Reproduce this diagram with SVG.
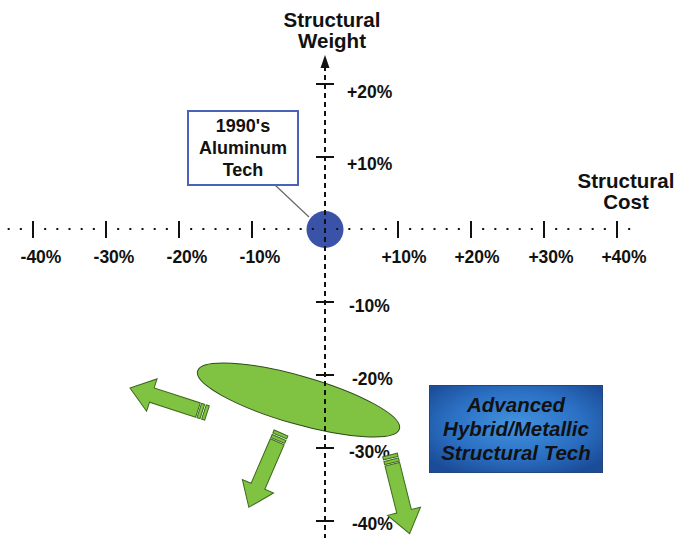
<svg xmlns="http://www.w3.org/2000/svg" width="678" height="538" viewBox="0 0 678 538">
  <style>
    .t { font-family: "Liberation Sans", Arial, sans-serif; font-weight: bold; fill: #111; }
    .title { font-size: 20.5px; text-anchor: middle; }
    .lbl { font-size: 17.5px; }
    .hl { text-anchor: middle; }
    .tick { stroke: #111; stroke-width: 2; }
    .grn { fill: #80c342; stroke: #3c6a1c; stroke-width: 1; }
  </style>
  <defs>
    <radialGradient id="blueGrad" cx="50%" cy="45%" r="65%">
      <stop offset="0" stop-color="#4393e0"/>
      <stop offset="0.6" stop-color="#2b6fc2"/>
      <stop offset="1" stop-color="#1a4c98"/>
    </radialGradient>
    <g id="blockArrow">
      <polygon class="grn" points="9.5,-7.5 58,-7.5 58,-17 81,0 58,17 58,7.5 9.5,7.5"/>
      <rect class="grn" x="0" y="-7.5" width="3.2" height="15"/>
      <rect class="grn" x="4.9" y="-7.5" width="3.2" height="15"/>
    </g>
  </defs>
  <rect width="678" height="538" fill="#fff"/>

  <g id="origin-circle">
    <ellipse cx="325" cy="229.5" rx="18.5" ry="18.5" fill="#3a52a8"/>
  </g>
  <g id="hybrid-region">
    <ellipse cx="298.5" cy="400" rx="105" ry="24" transform="rotate(16 298.5 400)" fill="#80c342" stroke="#2f4a18" stroke-width="1"/>
  </g>

  <g id="axes">
    <line x1="7.67" y1="229" x2="640" y2="229" stroke="#111" stroke-width="2" stroke-dasharray="2 10.1667"/>
    <line x1="325" y1="66" x2="325" y2="538" stroke="#111" stroke-width="2" stroke-dasharray="5 4"/>
    <polygon points="325,55 320.5,68 329.5,68" fill="#111"/>
    <line class="tick" x1="33" y1="221" x2="33" y2="238"/>
    <line class="tick" x1="106" y1="221" x2="106" y2="238"/>
    <line class="tick" x1="179" y1="221" x2="179" y2="238"/>
    <line class="tick" x1="252" y1="221" x2="252" y2="238"/>
    <line class="tick" x1="398" y1="221" x2="398" y2="238"/>
    <line class="tick" x1="471" y1="221" x2="471" y2="238"/>
    <line class="tick" x1="544" y1="221" x2="544" y2="238"/>
    <line class="tick" x1="617" y1="221" x2="617" y2="238"/>
    <line class="tick" x1="316" y1="84" x2="334" y2="84"/>
    <line class="tick" x1="316" y1="157" x2="334" y2="157"/>
    <line class="tick" x1="316" y1="302" x2="334" y2="302"/>
    <line class="tick" x1="316" y1="375" x2="334" y2="375"/>
    <line class="tick" x1="316" y1="448" x2="334" y2="448"/>
    <line class="tick" x1="316" y1="521" x2="334" y2="521"/>
    <text class="t title" x="332" y="27">Structural</text>
    <text class="t title" x="332" y="48">Weight</text>
    <text class="t title" x="626" y="188">Structural</text>
    <text class="t title" x="626" y="209">Cost</text>
    <text class="t lbl hl" x="41" y="263">-40%</text>
    <text class="t lbl hl" x="114" y="263">-30%</text>
    <text class="t lbl hl" x="187" y="263">-20%</text>
    <text class="t lbl hl" x="260" y="263">-10%</text>
    <text class="t lbl hl" x="404" y="263">+10%</text>
    <text class="t lbl hl" x="477" y="263">+20%</text>
    <text class="t lbl hl" x="551" y="263">+30%</text>
    <text class="t lbl hl" x="624" y="263">+40%</text>
    <text class="t lbl" x="347" y="98">+20%</text>
    <text class="t lbl" x="347" y="170">+10%</text>
    <text class="t lbl" x="349" y="312">-10%</text>
    <text class="t lbl" x="352" y="385">-20%</text>
    <text class="t lbl" x="349" y="458">-30%</text>
    <text class="t lbl" x="352" y="530">-40%</text>
  </g>

  <g id="aluminum-box">
    <rect x="188" y="111" width="110" height="74" fill="#fff" stroke="#4a63b8" stroke-width="2"/>
    <text class="t" font-size="18" text-anchor="middle" x="243" y="132">1990's</text>
    <text class="t" font-size="18" text-anchor="middle" x="243" y="154">Aluminum</text>
    <text class="t" font-size="18" text-anchor="middle" x="243" y="176">Tech</text>
  </g>

  <g id="advanced-box">
    <rect x="429.5" y="385.5" width="173" height="87" fill="url(#blueGrad)" stroke="#24457e" stroke-width="1"/>
    <text class="t" font-size="20.5" font-style="italic" text-anchor="middle" x="516" y="412">Advanced</text>
    <text class="t" font-size="20.5" font-style="italic" text-anchor="middle" x="516" y="436">Hybrid/Metallic</text>
    <text class="t" font-size="20.5" font-style="italic" text-anchor="middle" x="516" y="460">Structural Tech</text>
  </g>

  <g id="connectors">
    <line x1="275" y1="185" x2="309" y2="217" stroke="#666" stroke-width="1.2"/>
    <use href="#blockArrow" transform="translate(207 413) rotate(198)"/>
    <use href="#blockArrow" transform="translate(281 433) rotate(113.4)"/>
    <use href="#blockArrow" transform="translate(390 455) rotate(76)"/>
  </g>
</svg>
